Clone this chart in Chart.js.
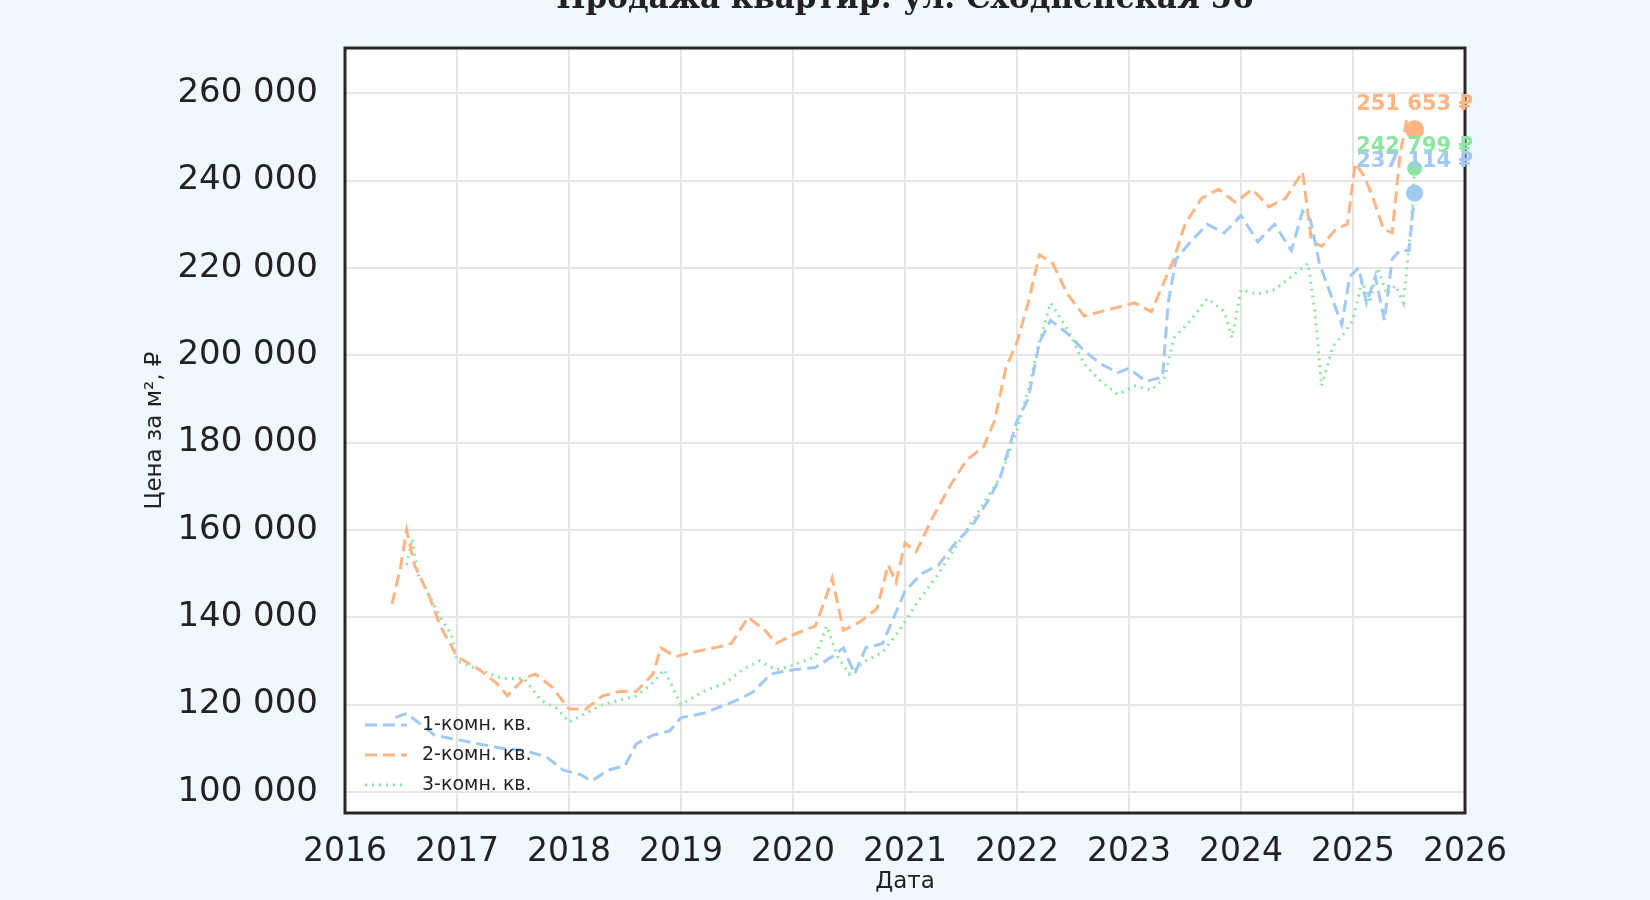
<!DOCTYPE html>
<html><head><meta charset="utf-8">
<script src="https://cdn.jsdelivr.net/npm/chart.js@4"></script>
<style>html,body{margin:0;background:#f0f8ff;}#w{width:1650px;height:900px;}</style>
</head><body><div id="w"><canvas id="c"></canvas></div>
<script>
const title = "Продажа квартир: ул. Сходненская 56";
const names = ["1-комн. кв.", "2-комн. кв.", "3-комн. кв."];
const x1 = [2016.45,2016.55,2016.65,2016.8,2017.0,2017.2,2017.4,2017.6,2017.8,2017.95,2018.1,2018.2,2018.35,2018.5,2018.6,2018.75,2018.9,2019.0,2019.2,2019.4,2019.5,2019.65,2019.8,2020.0,2020.2,2020.35,2020.45,2020.55,2020.65,2020.8,2020.9,2021.0,2021.15,2021.3,2021.45,2021.6,2021.75,2021.85,2022.0,2022.1,2022.2,2022.3,2022.45,2022.6,2022.75,2022.9,2023.0,2023.15,2023.3,2023.35,2023.42,2023.55,2023.7,2023.85,2024.0,2024.15,2024.3,2024.45,2024.55,2024.62,2024.7,2024.8,2024.9,2024.97,2025.05,2025.12,2025.2,2025.28,2025.35,2025.42,2025.5,2025.55];
const y1 = [117000,118000,116000,113000,112000,111000,110000,109500,108000,105000,104000,102500,105000,106000,111000,113000,114000,117000,118000,120000,121000,123000,127000,128000,128500,131000,133000,127000,133000,134000,140000,146000,150000,152000,157000,161000,167000,172000,185000,190000,203000,208000,205000,201000,198000,196000,197000,194000,195000,212000,222000,226000,230000,228000,232000,226000,230000,224000,233000,231000,221000,214000,207000,218000,220000,212000,218000,208000,222000,224000,224000,237114];
const x2 = [2016.42,2016.5,2016.55,2016.62,2016.75,2016.85,2017.0,2017.2,2017.35,2017.45,2017.6,2017.7,2017.85,2018.0,2018.15,2018.3,2018.45,2018.6,2018.75,2018.82,2018.95,2019.1,2019.3,2019.45,2019.6,2019.75,2019.85,2020.0,2020.2,2020.3,2020.35,2020.45,2020.6,2020.75,2020.85,2020.92,2021.0,2021.1,2021.25,2021.4,2021.55,2021.7,2021.8,2021.9,2022.0,2022.1,2022.2,2022.32,2022.45,2022.6,2022.75,2022.9,2023.05,2023.2,2023.3,2023.4,2023.5,2023.65,2023.8,2023.95,2024.1,2024.25,2024.4,2024.55,2024.63,2024.72,2024.85,2024.95,2025.02,2025.1,2025.18,2025.27,2025.35,2025.42,2025.48,2025.55];
const y2 = [143000,152000,160000,152000,145000,138000,131000,128000,125000,122000,126000,127000,124000,119000,119000,122000,123000,123000,127000,133000,131000,132000,133000,134000,140000,137000,134000,136000,138000,145000,149000,137000,139000,142000,152000,148000,157000,155000,163000,170000,176000,179000,185000,197000,203000,212000,223000,221000,214000,209000,210000,211000,212000,210000,216000,222000,230000,236000,238000,235000,238000,234000,236000,242000,226000,225000,229000,230000,244000,241000,236000,229000,228000,246000,254000,251653];
const x3 = [2016.55,2016.6,2016.65,2016.75,2016.85,2016.95,2017.0,2017.2,2017.4,2017.6,2017.75,2017.9,2018.0,2018.15,2018.3,2018.45,2018.6,2018.75,2018.85,2019.0,2019.2,2019.4,2019.55,2019.7,2019.85,2020.0,2020.2,2020.3,2020.4,2020.5,2020.65,2020.8,2020.95,2021.1,2021.3,2021.45,2021.6,2021.75,2021.85,2022.0,2022.1,2022.2,2022.3,2022.45,2022.6,2022.75,2022.9,2023.05,2023.2,2023.32,2023.4,2023.55,2023.7,2023.85,2023.92,2024.0,2024.15,2024.3,2024.45,2024.6,2024.66,2024.72,2024.82,2024.92,2025.0,2025.08,2025.15,2025.22,2025.3,2025.38,2025.45,2025.52,2025.55];
const y3 = [152000,158000,150000,145000,140000,136000,130000,128000,126000,126000,121000,119000,116000,118000,120000,121000,122000,125000,128000,120000,123000,125000,128000,130000,128000,129000,131000,138000,131000,127000,130000,132000,137000,143000,150000,156000,162000,168000,172000,183000,192000,203000,212000,206000,198000,194000,191000,193000,192000,195000,204000,208000,213000,210000,204000,215000,214000,215000,218000,221000,210000,193000,202000,205000,208000,217000,212000,220000,214000,216000,212000,230000,242799];
const lastLabels = ["237 114 ₽","251 653 ₽","242 799 ₽"];
const colors = ["#a1c9f4","#ffb482","#8de5a1"];
const dashes = [[12,6],[12,6],[2,5]];

const xs=[x1,x2,x3], ys=[y1,y2,y3];
const datasets = names.map((n,i)=>({label:n,data:xs[i].map((x,j)=>({x,y:ys[i][j]})),borderColor:colors[i],borderDash:dashes[i],borderWidth:3,pointRadius:0,fill:false,tension:0}));
names.forEach((n,i)=>{const k=xs[i].length-1;datasets.push({label:'end'+i,data:[{x:xs[i][k],y:ys[i][k]}],showLine:false,pointRadius:i==1?10:i==0?9:8,backgroundColor:colors[i],borderColor:'#fff',borderWidth:1});});

const deco={id:'deco',
 beforeDraw(c){const a=c.chartArea,x=c.ctx;x.save();x.fillStyle='#fff';x.fillRect(a.left,a.top,a.right-a.left,a.bottom-a.top);x.restore();},
 afterDraw(c){const a=c.chartArea,x=c.ctx;x.save();
  x.strokeStyle='#262626';x.lineWidth=3;x.strokeRect(a.left,a.top,a.right-a.left,a.bottom-a.top);
  x.font='bold 31px "DejaVu Serif"';x.fillStyle='#222';x.textAlign='center';x.textBaseline='alphabetic';x.fillText(title,(a.left+a.right)/2,8);
  x.font='bold 21px "DejaVu Sans"';x.textAlign='center';
  const offs=[-26,-20,-16];
  for(let i=0;i<3;i++){const m=c.getDatasetMeta(3+i).data[0];x.fillStyle=colors[i];x.fillText(lastLabels[i],m.x,m.y+offs[i]);}
  x.font='19px "DejaVu Sans"';x.textBaseline='middle';x.textAlign='left';
  for(let i=0;i<3;i++){const yy=a.bottom-88+i*30;x.strokeStyle=colors[i];x.lineWidth=3;x.setLineDash(dashes[i]);x.beginPath();x.moveTo(a.left+20,yy);x.lineTo(a.left+62,yy);x.stroke();x.setLineDash([]);x.fillStyle='#222';x.fillText(names[i],a.left+77,yy);}
  x.restore();}};

new Chart(document.getElementById('c'),{type:'line',data:{datasets},plugins:[deco],
 options:{responsive:true,maintainAspectRatio:false,animation:false,
  layout:{padding:{top:48,right:185,left:137,bottom:0}},
  plugins:{legend:{display:false},tooltip:{enabled:false}},
  scales:{
   x:{type:'linear',min:2016,max:2026,afterFit(s){s.height=87;},
     ticks:{stepSize:1,color:'#222',font:{size:33,family:'DejaVu Sans'},callback:v=>String(v),maxRotation:0,padding:20},
     grid:{color:'#e6e6e6',lineWidth:2,drawTicks:false},border:{display:false},
     title:{display:true,text:'Дата',color:'#222',font:{size:23,family:'DejaVu Sans'},padding:{top:-4}}},
   y:{min:95180,max:270360,afterFit(s){s.width=208;},
     afterBuildTicks(s){s.ticks=[100000,120000,140000,160000,180000,200000,220000,240000,260000].map(v=>({value:v}));},
     ticks:{color:'#222',font:{size:34,family:'DejaVu Sans'},callback:v=>v.toLocaleString('ru-RU').replace(/\s/g,' '),padding:27},
     grid:{color:'#e6e6e6',lineWidth:2,drawTicks:false},border:{display:false},
     title:{display:true,text:'Цена за м², ₽',color:'#222',font:{size:23,family:'DejaVu Sans'},padding:{bottom:2}}}
  }}});
</script></body></html>
